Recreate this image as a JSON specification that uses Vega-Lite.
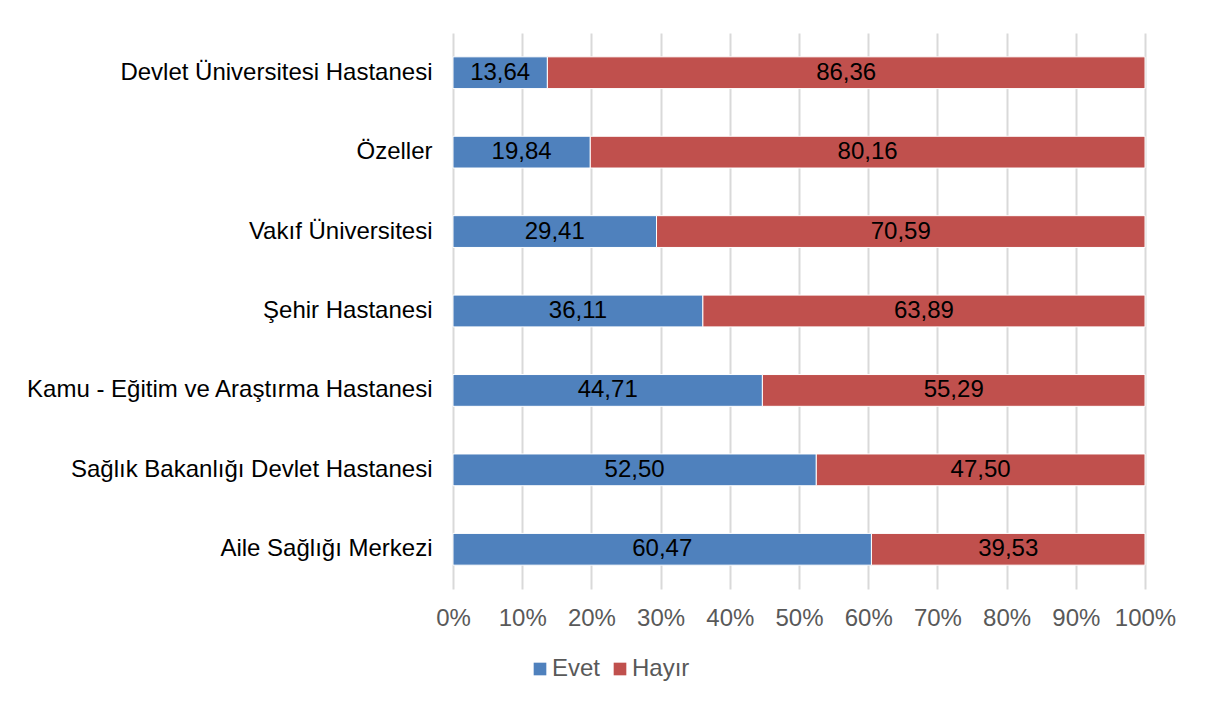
{
  "$schema": "https://vega.github.io/schema/vega-lite/v6.json",
  "autosize": {"type": "none"},
  "width": 692,
  "height": 556,
  "padding": {"left": 453, "top": 33, "right": 62, "bottom": 115},
  "background": "white",
  "data": {
    "values": [
      {"cat": "Devlet Üniversitesi Hastanesi", "resp": "Evet", "ord": 1, "value": 13.64},
      {"cat": "Devlet Üniversitesi Hastanesi", "resp": "Hayır", "ord": 2, "value": 86.36},
      {"cat": "Özeller", "resp": "Evet", "ord": 1, "value": 19.84},
      {"cat": "Özeller", "resp": "Hayır", "ord": 2, "value": 80.16},
      {"cat": "Vakıf Üniversitesi", "resp": "Evet", "ord": 1, "value": 29.41},
      {"cat": "Vakıf Üniversitesi", "resp": "Hayır", "ord": 2, "value": 70.59},
      {"cat": "Şehir Hastanesi", "resp": "Evet", "ord": 1, "value": 36.11},
      {"cat": "Şehir Hastanesi", "resp": "Hayır", "ord": 2, "value": 63.89},
      {"cat": "Kamu - Eğitim ve Araştırma Hastanesi", "resp": "Evet", "ord": 1, "value": 44.71},
      {"cat": "Kamu - Eğitim ve Araştırma Hastanesi", "resp": "Hayır", "ord": 2, "value": 55.29},
      {"cat": "Sağlık Bakanlığı Devlet Hastanesi", "resp": "Evet", "ord": 1, "value": 52.50},
      {"cat": "Sağlık Bakanlığı Devlet Hastanesi", "resp": "Hayır", "ord": 2, "value": 47.50},
      {"cat": "Aile Sağlığı Merkezi", "resp": "Evet", "ord": 1, "value": 60.47},
      {"cat": "Aile Sağlığı Merkezi", "resp": "Hayır", "ord": 2, "value": 39.53}
    ]
  },
  "transform": [
    {"stack": "value", "groupby": ["cat"], "sort": [{"field": "ord", "order": "ascending"}], "as": ["v0", "v1"]},
    {"calculate": "(datum.v0 + datum.v1) / 2", "as": "mid"}
  ],
  "encoding": {
    "y": {
      "field": "cat",
      "type": "nominal",
      "sort": ["Devlet Üniversitesi Hastanesi", "Özeller", "Vakıf Üniversitesi", "Şehir Hastanesi", "Kamu - Eğitim ve Araştırma Hastanesi", "Sağlık Bakanlığı Devlet Hastanesi", "Aile Sağlığı Merkezi"],
      "scale": {"paddingInner": 0.6, "paddingOuter": 0.3},
      "axis": {"title": null, "domain": false, "ticks": false, "grid": false, "labelPadding": 21, "labelColor": "#000000", "labelFontSize": 24, "labelFont": "Liberation Sans", "labelLimit": 600}
    }
  },
  "layer": [
    {
      "mark": {"type": "bar", "stroke": "white", "strokeWidth": 1},
      "encoding": {
        "x": {
          "field": "v0",
          "type": "quantitative",
          "scale": {"domain": [0, 100], "nice": false},
          "axis": {"title": null, "values": [0, 10, 20, 30, 40, 50, 60, 70, 80, 90, 100], "labelExpr": "datum.value + '%'", "domain": false, "ticks": false, "grid": true, "gridColor": "#d9d9d9", "gridWidth": 2, "labelPadding": 17, "labelColor": "#595959", "labelFontSize": 24, "labelFont": "Liberation Sans", "labelFlush": false}
        },
        "x2": {"field": "v1"},
        "color": {
          "field": "resp",
          "type": "nominal",
          "scale": {"domain": ["Evet", "Hayır"], "range": ["#4F81BD", "#C0504D"]},
          "legend": {
            "title": null,
            "orient": "none",
            "direction": "horizontal",
            "legendX": 75,
            "legendY": 624,
            "padding": 0,
            "symbolType": "square",
            "symbolSize": 160,
            "symbolStrokeWidth": 0,
            "labelFontSize": 24,
            "labelFont": "Liberation Sans",
            "labelColor": "#595959",
            "labelOffset": 0,
            "columnPadding": 7
          }
        }
      }
    },
    {
      "mark": {"type": "text", "align": "center", "baseline": "middle", "fontSize": 24, "font": "Liberation Sans", "color": "#000000"},
      "encoding": {
        "x": {"field": "mid", "type": "quantitative"},
        "text": {"field": "value", "type": "quantitative", "format": ".2f"}
      }
    }
  ],
  "config": {
    "view": {"stroke": null},
    "locale": {"number": {"decimal": ",", "thousands": ".", "grouping": [3], "currency": ["", " TL"]}}
  }
}
